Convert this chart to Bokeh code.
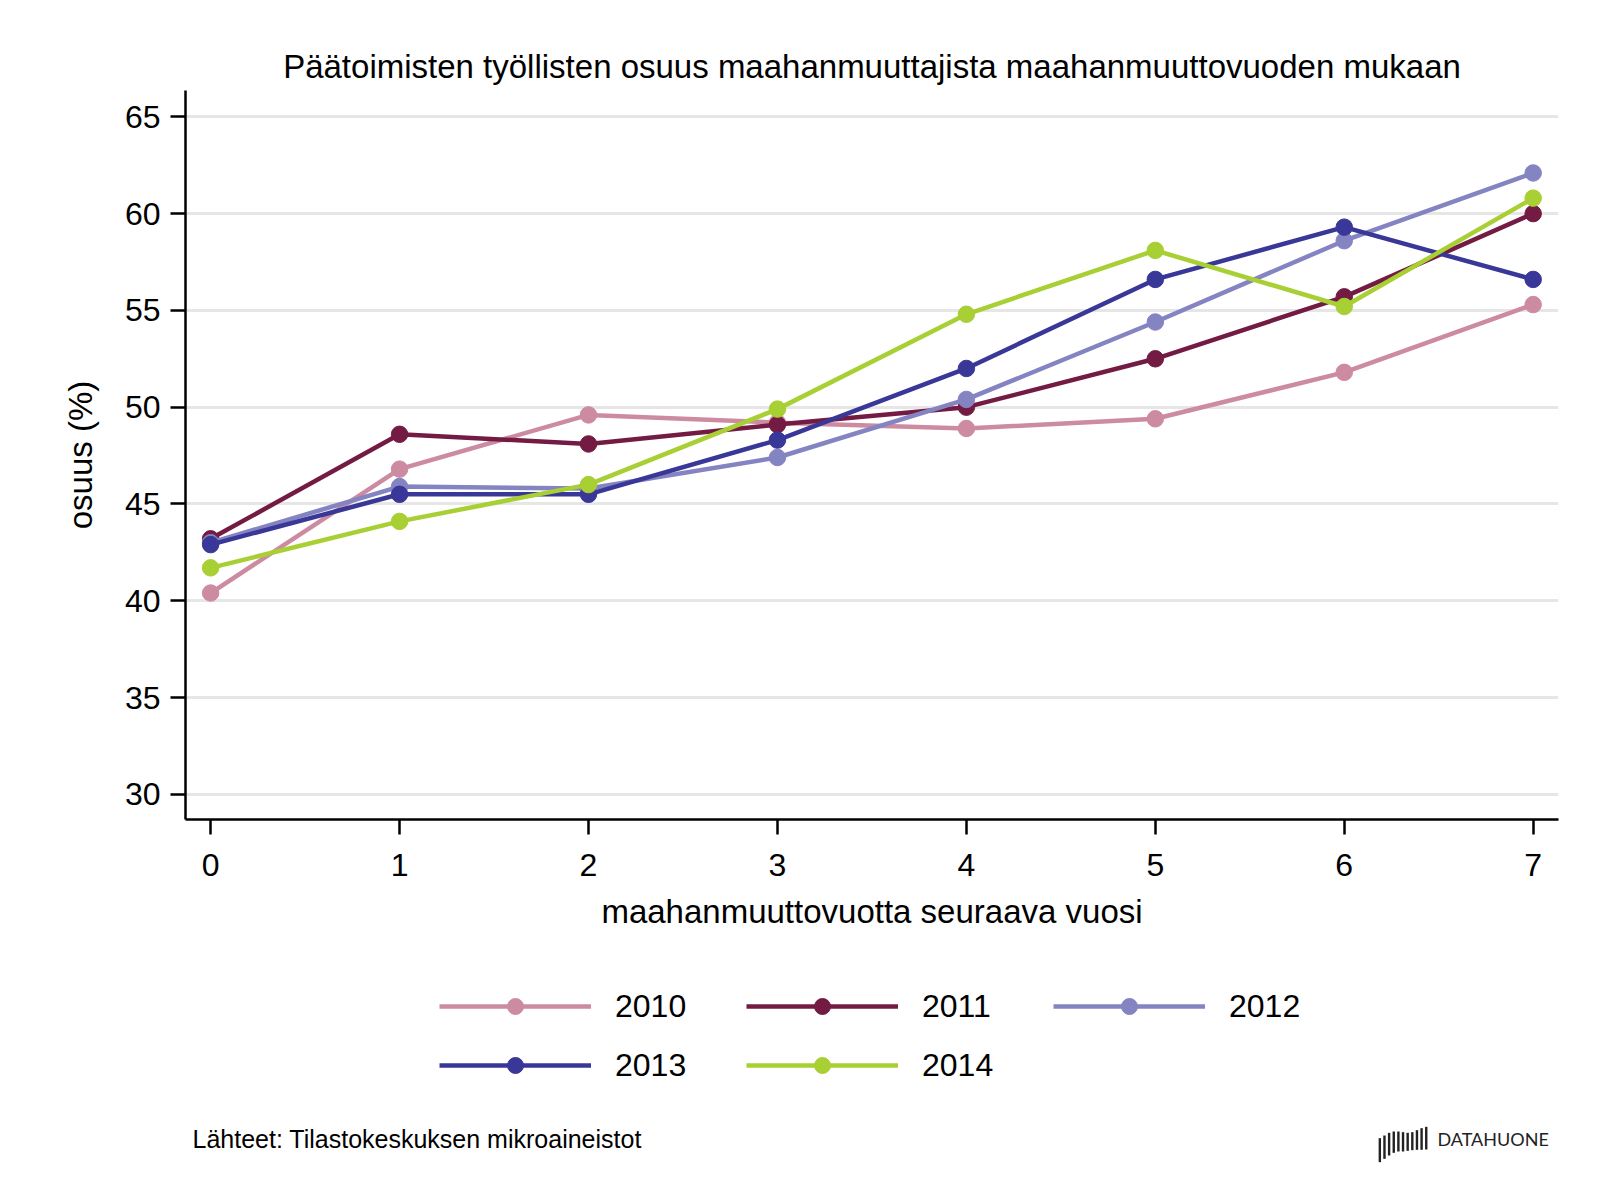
from bokeh.plotting import figure
from bokeh.layouts import column
from bokeh.models import Legend, LegendItem, Label, FixedTicker, Range1d
from bokeh.embed import file_html
from bokeh.resources import INLINE

years_after = [0, 1, 2, 3, 4, 5, 6, 7]
series_names = ["2010", "2011", "2012", "2013", "2014"]
v2010 = [40.4, 46.8, 49.6, 49.2, 48.9, 49.4, 51.8, 55.3]
v2011 = [43.2, 48.6, 48.1, 49.1, 50.0, 52.5, 55.7, 60.0]
v2012 = [43.0, 45.9, 45.8, 47.4, 50.4, 54.4, 58.6, 62.1]
v2013 = [42.9, 45.5, 45.5, 48.3, 52.0, 56.6, 59.3, 56.6]
v2014 = [41.7, 44.1, 46.0, 49.9, 54.8, 58.1, 55.2, 60.8]
colors = ["#CD8BA1", "#731B43", "#8584C2", "#393797", "#A8CF33"]
y_ticks = [30, 35, 40, 45, 50, 55, 60, 65]

FONT = "Liberation Sans"
W = 1584
H1 = 958
H2 = 226
FL, FR = 185, 1558   # frame left / right in page pixels

p = figure(width=W, height=H1, output_backend="svg", toolbar_location=None,
           x_range=Range1d(-0.133, 7.134), y_range=Range1d(28.70, 66.36),
           min_border_left=FL, min_border_right=W - FR, min_border_top=90,
           min_border_bottom=H1 - 819)
p.outline_line_color = None
p.background_fill_color = "white"
p.border_fill_color = "white"

p.title.text = "Päätoimisten työllisten osuus maahanmuuttajista maahanmuuttovuoden mukaan"
p.title.align = "center"
p.title.text_font = FONT
p.title.text_font_style = "normal"
p.title.text_font_size = "33px"
p.title.text_color = "black"
p.title.standoff = 11

p.xgrid.grid_line_color = None
p.ygrid.grid_line_color = "#E6E6E6"
p.ygrid.grid_line_width = 3

p.xaxis.ticker = FixedTicker(ticks=years_after)
p.yaxis.ticker = FixedTicker(ticks=y_ticks)
for ax in (p.xaxis[0], p.yaxis[0]):
    ax.axis_line_color = "black"
    ax.axis_line_width = 2.5
    ax.major_tick_line_color = "black"
    ax.major_tick_line_width = 2.5
    ax.major_tick_out = 15
    ax.major_tick_in = 0
    ax.minor_tick_line_color = None
    ax.major_label_text_font = FONT
    ax.major_label_text_font_size = "32px"
    ax.major_label_text_color = "black"
    ax.axis_label_text_font = FONT
    ax.axis_label_text_font_size = "33px"
    ax.axis_label_text_font_style = "normal"
    ax.axis_label_text_color = "black"
p.xaxis.major_label_standoff = 19
p.yaxis.major_label_standoff = 10
p.xaxis.axis_label = "maahanmuuttovuotta seuraava vuosi"
p.yaxis.axis_label = "osuus (%)"
p.xaxis.axis_label_standoff = 14
p.yaxis.axis_label_standoff = 23

for name, vals, c in zip(series_names, [v2010, v2011, v2012, v2013, v2014], colors):
    p.line(years_after, vals, line_color=c, line_width=4.5)
    p.scatter(years_after, vals, size=16.5, fill_color=c, line_color=c)

# lower panel: legend and footer (x and y in page pixels)
p2 = figure(width=W, height=H2, output_backend="svg", toolbar_location=None,
            x_range=Range1d(FL, FR), y_range=Range1d(H1 + H2, H1),
            x_axis_type=None, y_axis_type=None,
            min_border_left=FL, min_border_right=W - FR, min_border_top=0,
            min_border_bottom=0)
p2.outline_line_color = None
p2.background_fill_color = "white"
p2.border_fill_color = "white"
p2.xgrid.grid_line_color = None
p2.ygrid.grid_line_color = None

items = []
nan = float("nan")
for name, c in zip(series_names, colors):
    l = p2.line([nan], [nan], line_color=c, line_width=4.5)
    s = p2.scatter([nan], [nan], size=16, fill_color=c, line_color=c)
    items.append(LegendItem(label=name, renderers=[l, s]))

legend = Legend(items=items, ncols=3, orientation="horizontal", location=(439 - FL, 99),
                glyph_width=152, glyph_height=40, label_height=40, label_width=112,
                label_standoff=24, spacing=19, border_line_color=None,
                background_fill_alpha=0, label_text_font=FONT,
                label_text_font_size="32px", label_text_color="black",
                label_text_baseline="middle",
                margin=0, padding=0)
p2.add_layout(legend, "center")

p2.add_layout(Label(x=192, y=1138,
                    text="Lähteet: Tilastokeskuksen mikroaineistot",
                    text_font=FONT, text_font_size="25px", text_color="black",
                    text_baseline="middle", text_align="left"))
p2.add_layout(Label(x=1437, y=1138,
                    text="DATAHUONE", text_font="Lato", text_font_size="18px",
                    text_color="#222222", text_baseline="middle", text_align="left"))

logo_tops = [68, 60, 52, 48, 48, 50, 52, 50, 44, 38, 34]
logo_bottoms = [140, 130, 120, 112, 108, 108, 106, 104, 103, 103, 102]
lx, rx, ty, by = [], [], [], []
for i, (t, b) in enumerate(zip(logo_tops, logo_bottoms)):
    x0 = 1370 + 28 / 3 + i * 4.64
    lx.append(x0 - 1.2)
    rx.append(x0 + 1.2)
    ty.append(1115 + t / 3)
    by.append(1115 + b / 3)
p2.quad(left=lx, right=rx, top=ty, bottom=by, fill_color="#222222", line_color=None)

layout = column(p, p2, spacing=0)
open("out.html", "w").write(file_html(layout, INLINE))
